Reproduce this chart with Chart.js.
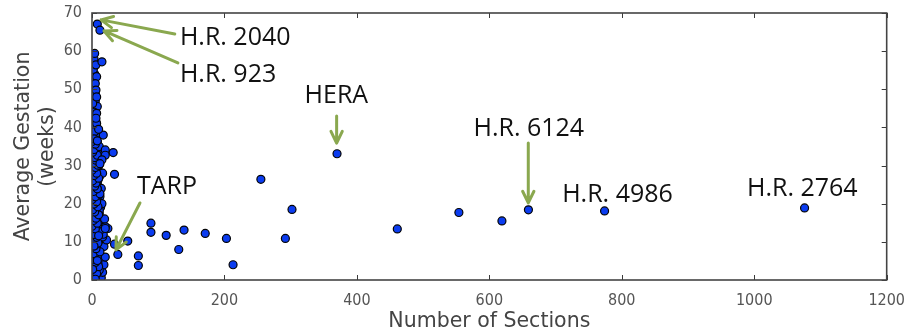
<!DOCTYPE html>
<html lang="en">
<head>
    <meta charset="UTF-8">
    <title>Bill size vs gestation</title>
    <script src="https://cdn.jsdelivr.net/npm/chart.js"></script>
    <style>
        body { margin: 0; background: #fff; }
    </style>
</head>
<body>

<div style="width: 908px; height: 335px;">
    <canvas id="chart"></canvas>
</div>

<script>
    // number of sections per bill
    const sections = [
        // dense column near zero
        1, 3, 6, 10, 14, 2, 8, 12, 4, 1, 9, 15, 5, 2, 11, 7, 3, 13, 18, 6, 1, 10, 22, 4, 16, 8, 2, 12, 24, 20,
        5, 9, 1, 14, 6, 3, 11, 7, 2, 13, 5, 9, 1, 4, 12, 7, 2, 10, 5, 3, 8, 1, 6, 11, 3, 7, 2, 9, 5, 1,
        12, 4, 8, 2, 6, 3, 10, 1, 5, 7, 2, 4, 9, 1, 3, 6,
        0, 5, 16, 18, 20, 0, 17, 19, 15, 14, 16, 13, 0, 0, 0, 0, 0, 0, 4, 5, 3, 4, 3,
        2, 5, 8, 11, 3, 6, 9, 1, 4, 7, 10, 2, 5, 8, 0, 3, 6, 9, 12, 1, 4, 7, 2, 5, 8, 11, 0, 3, 6, 1,
        4, 7, 10, 2, 5, 8, 1, 3, 6, 9, 0, 4, 7, 2, 5, 8, 11, 1, 3, 6, 9, 2, 4, 7, 0, 5, 8, 1, 3, 6,
        3, 7, 1, 10, 5, 0, 8, 2, 12, 6, 4, 9, 1, 7, 3, 11, 5, 0, 8, 2, 6, 10, 4, 1, 9, 3, 7, 0, 5, 12,
        2, 8, 4, 6, 1, 10, 3, 7, 0, 5, 9, 2, 6, 4, 8, 1, 3, 11, 5, 0, 7, 2, 9, 4, 6, 1, 8, 3, 10, 5,
        2, 6, 3, 8, 1, 5, 4, 2, 7, 3,
        // upper part of the column
        8, 12, 4, 6, 15, 7, 5, 6, 7, 7, 6, 4, 17, 10, 3, 8, 20, 32, 20, 15, 12,
        // spread out bills
        34, 20, 34, 54, 39, 70, 70, 89, 89, 112, 131, 139, 171, 203, 213, 255, 292, 302, 370, 461,
        554, 619, 659, 774, 1076
    ];
    // average gestation in weeks
    const gestation = [
        0.5, 1, 0.8, 1.5, 0.6, 2.5, 2.2, 3, 3.8, 4.5, 4.8, 5, 5.6, 6.5, 6.8, 7.2, 8, 8.4, 8.8, 9.2, 9.8, 10.2, 10.5, 11, 11.3, 11.8, 12.5, 12.9, 13.5, 14,
        14.2, 14.8, 15.3, 15.8, 16.4, 17, 17.5, 18, 18.6, 19.1, 19.7, 20.3, 20.8, 21.4, 21.9, 22.5, 23, 23.6, 24.2, 24.8, 25.3, 25.9, 26.5, 27, 27.6, 28.1, 28.7, 29.3, 29.9, 30.5,
        31, 31.6, 32.2, 32.8, 33.4, 34, 34.6, 35.2, 35.8, 36.4, 37, 37.6, 38.3, 39, 39.6, 40.2,
        2, 3, 2, 4, 6, 7, 12, 16, 20, 24, 28, 34, 13, 17, 22, 27, 33, 38, 44.5, 47, 50.5, 54, 58,
        0.3, 1.2, 1.8, 2.6, 3.3, 4.1, 4.3, 5.2, 6.1, 6.3, 7.5, 7.9, 8.6, 9.5, 10, 10.8, 11.5, 12.1, 13.2, 13.8, 14.5, 15.1, 15.9, 16.7, 17.3, 18.3, 18.9, 19.4, 20, 20.6,
        21.2, 21.7, 22.2, 22.8, 23.3, 24, 24.5, 25.1, 25.6, 26.2, 26.8, 27.3, 27.9, 28.4, 29, 29.6, 30.2, 30.8, 31.3, 31.9, 32.5, 33.1, 33.7, 34.3, 34.9, 35.5, 36.1, 36.7, 37.3, 37.9,
        0.9, 1.7, 2.9, 3.5, 4.6, 5.4, 5.9, 6.9, 7.4, 8.2, 9, 9.7, 10.4, 11.2, 11.9, 12.7, 13.4, 14.1, 14.9, 15.6, 16.2, 17.1, 17.8, 18.4, 19.2, 19.9, 20.5, 21.1, 21.8, 22.6,
        23.2, 23.9, 24.6, 25.4, 26, 26.7, 27.4, 28, 28.8, 29.5, 30.1, 30.7, 31.4, 32.1, 32.7, 33.5, 34.2, 35, 35.6, 36.3, 37.1, 37.8, 38.5, 39.2, 40, 2.8, 5.1, 8.9, 11.6, 0.2,
        40.8, 41.5, 43, 45.5, 46.3, 48.8, 52.4, 55.2, 41, 44,
        67.1, 65.5, 59.4, 56.4, 57.2, 53.3, 51.5, 49.8, 48, 43.7, 42.4, 38.9, 38, 39.5, 37, 36.5, 34.1, 33.4, 32.7, 31.5, 30.5,
        27.7, 13.5, 9.4, 10.2, 6.7, 6.3, 3.8, 14.9, 12.5, 11.7, 8.0, 13.1, 12.2, 10.9, 4.0, 26.4, 10.9, 18.5, 33.1, 13.4,
        17.7, 15.5, 18.4, 18.1, 18.9
    ];
    const xTicks = [0, 200, 400, 600, 800, 1000, 1200];
    const yTicks = [0, 10, 20, 30, 40, 50, 60, 70];

    // callouts: label anchor and optional arrow, in data units
    const noteLabels = ['H.R. 2040', 'H.R. 923', 'HERA', 'TARP', 'H.R. 6124', 'H.R. 4986', 'H.R. 2764'];
    const noteAt = [[132.7, 61.5], [132.7, 51.8], [321, 46.4], [67.8, 22.6], [576, 37.8], [710, 20.5], [989, 22.1]];
    const noteArrows = [
        [[125, 64.5], [13.6, 68.2]],
        [[129.7, 56.9], [18.1, 65.3]],
        [[369.4, 43], [369.4, 35.9]],
        [[72.4, 20.2], [36.2, 7.9]],
        [[658.8, 35.9], [658.8, 20.2]],
        null,
        null
    ];

    const points = sections.map((s, i) => ({ x: s, y: gestation[i] }));

    // frame, inward ticks and callouts
    const decorations = {
        id: 'decorations',
        afterDatasetsDraw(chart) {
            const ctx = chart.ctx;
            const a = chart.chartArea;
            const xs = chart.scales.x, ys = chart.scales.y;
            ctx.save();
            ctx.strokeStyle = '#3a3a3a';
            ctx.lineWidth = 1;
            xTicks.forEach(t => {
                const px = Math.round(xs.getPixelForValue(t)) + 0.5;
                ctx.beginPath();
                ctx.moveTo(px, a.bottom); ctx.lineTo(px, a.bottom - 5);
                ctx.moveTo(px, a.top); ctx.lineTo(px, a.top + 5);
                ctx.stroke();
            });
            yTicks.forEach(t => {
                const py = Math.round(ys.getPixelForValue(t)) + 0.5;
                ctx.beginPath();
                ctx.moveTo(a.left, py); ctx.lineTo(a.left + 5, py);
                ctx.moveTo(a.right, py); ctx.lineTo(a.right - 5, py);
                ctx.stroke();
            });
            ctx.lineWidth = 1.6;
            ctx.strokeStyle = '#444';
            ctx.strokeRect(a.left, a.top, a.right - a.left, a.bottom - a.top);

            // arrows
            ctx.strokeStyle = '#8aa84f';
            ctx.lineWidth = 3;
            ctx.lineCap = 'round';
            ctx.lineJoin = 'round';
            noteArrows.forEach(arr => {
                if (!arr) return;
                const x0 = xs.getPixelForValue(arr[0][0]), y0 = ys.getPixelForValue(arr[0][1]);
                const x1 = xs.getPixelForValue(arr[1][0]), y1 = ys.getPixelForValue(arr[1][1]);
                const ang = Math.atan2(y1 - y0, x1 - x0);
                const head = 13;
                ctx.beginPath();
                ctx.moveTo(x0, y0); ctx.lineTo(x1, y1);
                ctx.moveTo(x1 - head * Math.cos(ang - 0.45), y1 - head * Math.sin(ang - 0.45));
                ctx.lineTo(x1, y1);
                ctx.lineTo(x1 - head * Math.cos(ang + 0.45), y1 - head * Math.sin(ang + 0.45));
                ctx.stroke();
            });

            // labels
            ctx.fillStyle = '#111';
            ctx.font = '25px "Open Sans", sans-serif';
            ctx.textBaseline = 'alphabetic';
            ctx.textAlign = 'left';
            noteLabels.forEach((txt, i) => {
                ctx.fillText(txt, xs.getPixelForValue(noteAt[i][0]), ys.getPixelForValue(noteAt[i][1]));
            });
            ctx.restore();
        }
    };

    const tickFont = { family: '"DejaVu Sans Condensed", "DejaVu Sans", sans-serif', size: 16 };
    const titleFont = { family: '"DejaVu Sans", sans-serif', size: 20.5 };

    new Chart(document.getElementById('chart'), {
        type: 'scatter',
        data: {
            datasets: [{
                data: points,
                backgroundColor: '#0b3cf0',
                borderColor: '#050505',
                borderWidth: 1.2,
                pointRadius: 4,
                pointHoverRadius: 4
            }]
        },
        options: {
            responsive: true,
            maintainAspectRatio: false,
            animation: false,
            layout: { padding: { top: 13, right: 20, left: 0, bottom: 0 } },
            plugins: {
                legend: { display: false },
                tooltip: { enabled: false }
            },
            scales: {
                x: {
                    min: 0,
                    max: 1200,
                    afterBuildTicks: s => { s.ticks = xTicks.map(v => ({ value: v })); },
                    afterFit: s => { s.height = 55; },
                    grid: { display: false },
                    border: { display: false },
                    ticks: { color: '#555', font: tickFont, padding: 3, maxRotation: 0, callback: v => String(v) },
                    title: { display: true, text: 'Number of Sections', color: '#444', font: titleFont, padding: { top: 4, bottom: 1 } }
                },
                y: {
                    min: 0,
                    max: 70,
                    afterBuildTicks: s => { s.ticks = yTicks.map(v => ({ value: v })); },
                    afterFit: s => { s.width = 92; },
                    grid: { display: false },
                    border: { display: false },
                    ticks: { color: '#555', font: tickFont, padding: 2, callback: v => String(v) },
                    title: { display: true, text: ['Average Gestation', '(weeks)'], color: '#444', font: titleFont, padding: { top: 11, bottom: 0 } }
                }
            }
        },
        plugins: [decorations]
    });
</script>
</body>
</html>
